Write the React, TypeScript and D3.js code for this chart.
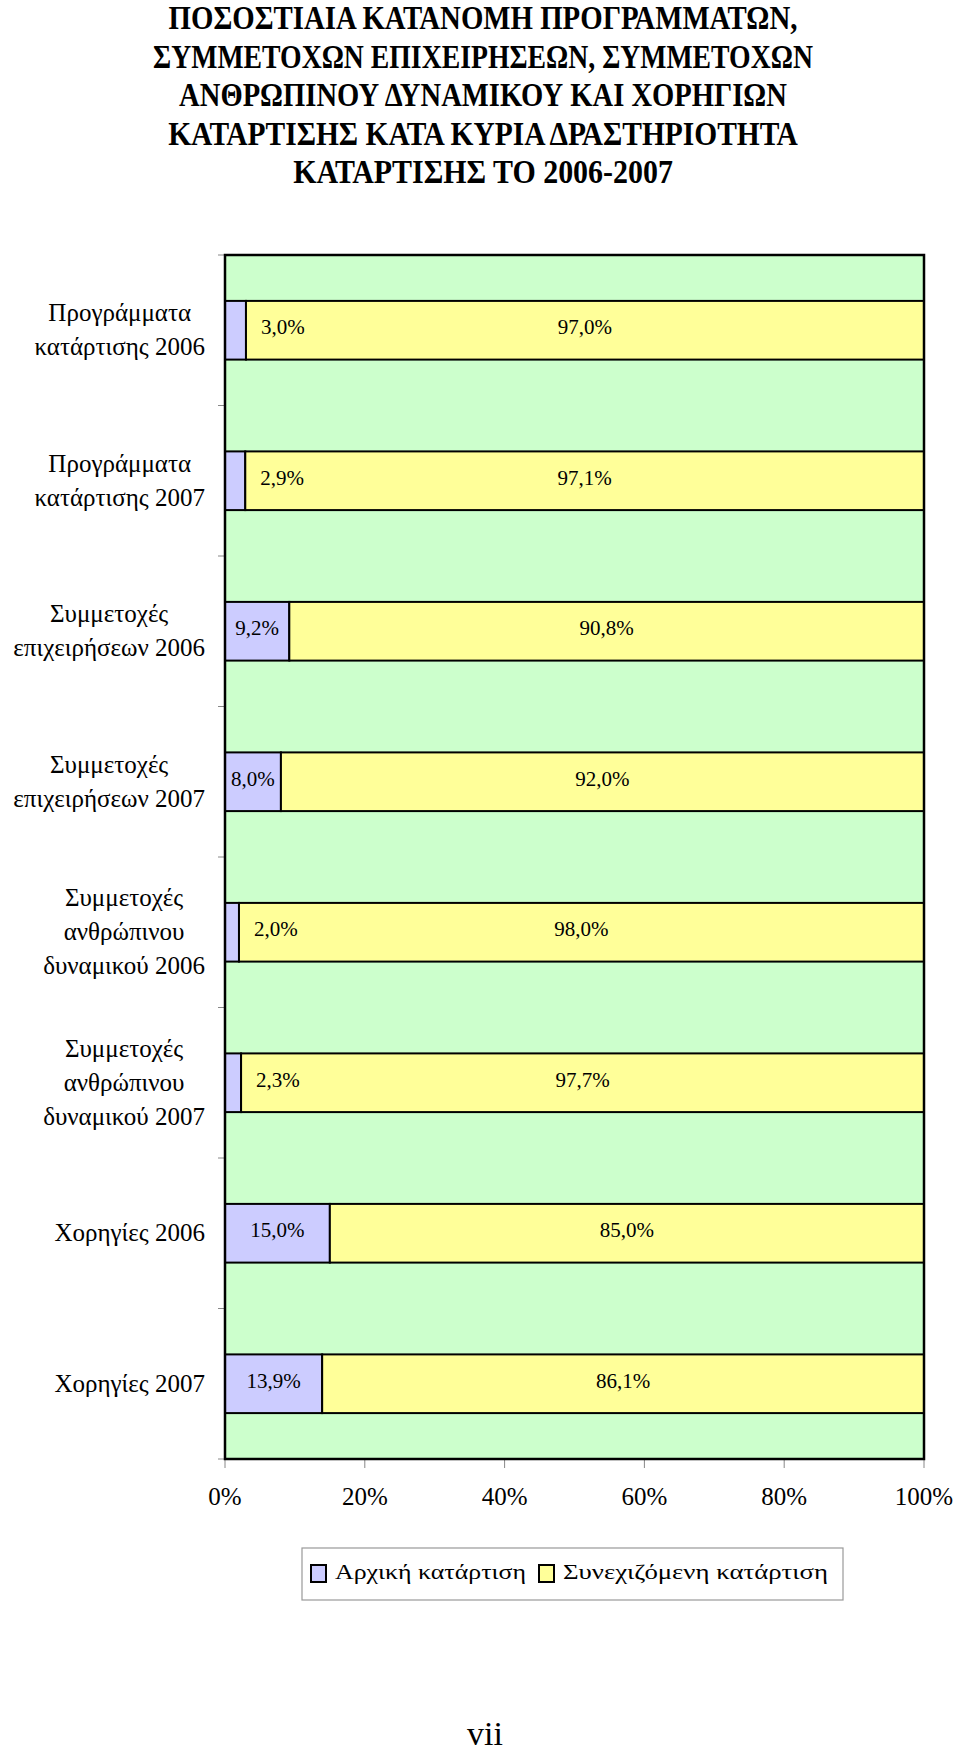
import React, { useEffect, useRef } from "react";
import * as d3 from "d3";

const titleLines = [
  "ΠΟΣΟΣΤΙΑΙΑ ΚΑΤΑΝΟΜΗ ΠΡΟΓΡΑΜΜΑΤΩΝ,",
  "ΣΥΜΜΕΤΟΧΩΝ ΕΠΙΧΕΙΡΗΣΕΩΝ, ΣΥΜΜΕΤΟΧΩΝ",
  "ΑΝΘΡΩΠΙΝΟΥ ΔΥΝΑΜΙΚΟΥ ΚΑΙ ΧΟΡΗΓΙΩΝ",
  "ΚΑΤΑΡΤΙΣΗΣ ΚΑΤΑ ΚΥΡΙΑ ΔΡΑΣΤΗΡΙΟΤΗΤΑ",
  "ΚΑΤΑΡΤΙΣΗΣ ΤΟ 2006-2007",
];

const categories = [
  ["Προγράμματα", "κατάρτισης 2006"],
  ["Προγράμματα", "κατάρτισης 2007"],
  ["Συμμετοχές", "επιχειρήσεων 2006"],
  ["Συμμετοχές", "επιχειρήσεων 2007"],
  ["Συμμετοχές", "ανθρώπινου", "δυναμικού 2006"],
  ["Συμμετοχές", "ανθρώπινου", "δυναμικού 2007"],
  ["Χορηγίες 2006"],
  ["Χορηγίες 2007"],
];

const initialValues = [3.0, 2.9, 9.2, 8.0, 2.0, 2.3, 15.0, 13.9];
const continuingValues = [97.0, 97.1, 90.8, 92.0, 98.0, 97.7, 85.0, 86.1];

const seriesNames = ["Αρχική κατάρτιση", "Συνεχιζόμενη κατάρτιση"];
const seriesColors = ["#CCCCFF", "#FFFF99"];

const xTicks = [0, 20, 40, 60, 80, 100];
const pageNumber = "vii";

const titleWidths = [629, 660, 608, 630, 380];

const FONT = "'Liberation Serif', 'Times New Roman', serif";

export default function App() {
  const ref = useRef<SVGSVGElement>(null);

  useEffect(() => {
    const svg = d3.select(ref.current);
    svg.selectAll("*").remove();

    const left = 225, right = 924, top = 255, bottom = 1459;
    const x = d3.scaleLinear().domain([0, 100]).range([left, right]);
    const y = d3
      .scaleBand<number>()
      .domain(categories.map((_, i) => i))
      .range([top, bottom])
      .paddingInner(0.61)
      .paddingOuter(0.305);
    const step = y.step();

    // Title (horizontally scaled to match condensed look)
    const tg = svg.append("g");
    titleLines.forEach((line, i) => {
      const t = tg.append("text")
        .attr("x", 0)
        .attr("y", 0)
        .attr("text-anchor", "middle")
        .attr("font-family", FONT)
        .attr("font-weight", "bold")
        .attr("font-size", 34)
        .attr("fill", "#000")
        .text(line);
      const w = (t.node() as SVGTextElement).getComputedTextLength() || titleWidths[i];
      t.attr("transform", `translate(483,${29 + i * 38.5}) scale(${titleWidths[i] / w},1)`);
    });

    // Plot background
    svg.append("rect")
      .attr("x", left).attr("y", top)
      .attr("width", right - left).attr("height", bottom - top)
      .attr("fill", "#CCFFCC");

    // Y ticks at band boundaries
    const yb = d3.range(categories.length + 1).map((i) => top + i * step);
    svg.append("g").selectAll("line").data(yb).join("line")
      .attr("x1", left - 7).attr("x2", left)
      .attr("y1", (d) => d).attr("y2", (d) => d)
      .attr("stroke", "#888").attr("stroke-width", 1);

    // X ticks
    svg.append("g").selectAll("line").data(xTicks).join("line")
      .attr("x1", (d) => x(d)).attr("x2", (d) => x(d))
      .attr("y1", bottom).attr("y2", bottom + 9)
      .attr("stroke", "#888").attr("stroke-width", 1);

    svg.append("g").selectAll("text").data(xTicks).join("text")
      .attr("x", (d) => x(d)).attr("y", bottom + 46)
      .attr("text-anchor", "middle")
      .attr("font-family", FONT).attr("font-size", 25)
      .text((d) => d + "%");

    const fmt = (v: number) => d3.format(".1f")(v).replace(".", ",") + "%";

    // Bars
    const bars = svg.append("g");
    categories.forEach((_, i) => {
      const y0 = y(i)!;
      const bw = y.bandwidth();
      const a = initialValues[i];
      const b = continuingValues[i];
      bars.append("rect")
        .attr("x", x(0)).attr("y", y0)
        .attr("width", x(a) - x(0)).attr("height", bw)
        .attr("fill", seriesColors[0]).attr("stroke", "#000").attr("stroke-width", 2);
      bars.append("rect")
        .attr("x", x(a)).attr("y", y0)
        .attr("width", x(a + b) - x(a)).attr("height", bw)
        .attr("fill", seriesColors[1]).attr("stroke", "#000").attr("stroke-width", 2);

      const base = y0 + bw / 2 + 4;
      const narrow = x(a) - x(0) < 30;
      bars.append("text")
        .attr("x", narrow ? x(a) + 15 : (x(0) + x(a)) / 2)
        .attr("y", base)
        .attr("text-anchor", narrow ? "start" : "middle")
        .attr("font-family", FONT).attr("font-size", 21)
        .text(fmt(a));
      bars.append("text")
        .attr("x", (x(a) + x(a + b)) / 2)
        .attr("y", base)
        .attr("text-anchor", "middle")
        .attr("font-family", FONT).attr("font-size", 21)
        .text(fmt(b));
    });

    // Plot frame
    svg.append("rect")
      .attr("x", left).attr("y", top)
      .attr("width", right - left).attr("height", bottom - top)
      .attr("fill", "none").attr("stroke", "#000").attr("stroke-width", 2.5);

    // Category labels
    const lg = svg.append("g");
    const labelRight = 205;
    const lh = 34;
    categories.forEach((lines, i) => {
      const cy = y(i)! + y.bandwidth() / 2;
      const g = lg.append("g");
      const texts = lines.map((line, j) =>
        g.append("text")
          .attr("y", cy - ((lines.length - 1) * lh) / 2 + 8 + j * lh)
          .attr("text-anchor", "middle")
          .attr("font-family", FONT).attr("font-size", 25)
          .text(line)
      );
      const maxW = d3.max(texts, (t) => (t.node() as SVGTextElement).getComputedTextLength()) || 0;
      texts.forEach((t) => t.attr("x", labelRight - maxW / 2));
    });

    // Legend
    const leg = svg.append("g");
    leg.append("rect")
      .attr("x", 302).attr("y", 1548).attr("width", 541).attr("height", 52)
      .attr("fill", "#fff").attr("stroke", "#999").attr("stroke-width", 1.2);
    const legX = [311, 539];
    const legTextX = [335, 563];
    const legW = [191, 265];
    seriesNames.forEach((name, i) => {
      leg.append("rect")
        .attr("x", legX[i]).attr("y", 1565).attr("width", 15).attr("height", 17)
        .attr("fill", seriesColors[i]).attr("stroke", "#000").attr("stroke-width", 2);
      const t = leg.append("text")
        .attr("x", 0).attr("y", 0)
        .attr("font-family", FONT).attr("font-size", 22)
        .text(name);
      const w = (t.node() as SVGTextElement).getComputedTextLength() || legW[i];
      t.attr("transform", `translate(${legTextX[i]},1579) scale(${legW[i] / w},1)`);
    });

    // Page number
    svg.append("text")
      .attr("x", 485).attr("y", 1745)
      .attr("text-anchor", "middle")
      .attr("font-family", FONT).attr("font-size", 34)
      .text(pageNumber);
  }, []);

  return (
    <svg
      ref={ref}
      width={960}
      height={1748}
      style={{ position: "absolute", left: 0, top: 0, background: "#fff" }}
    />
  );
}
